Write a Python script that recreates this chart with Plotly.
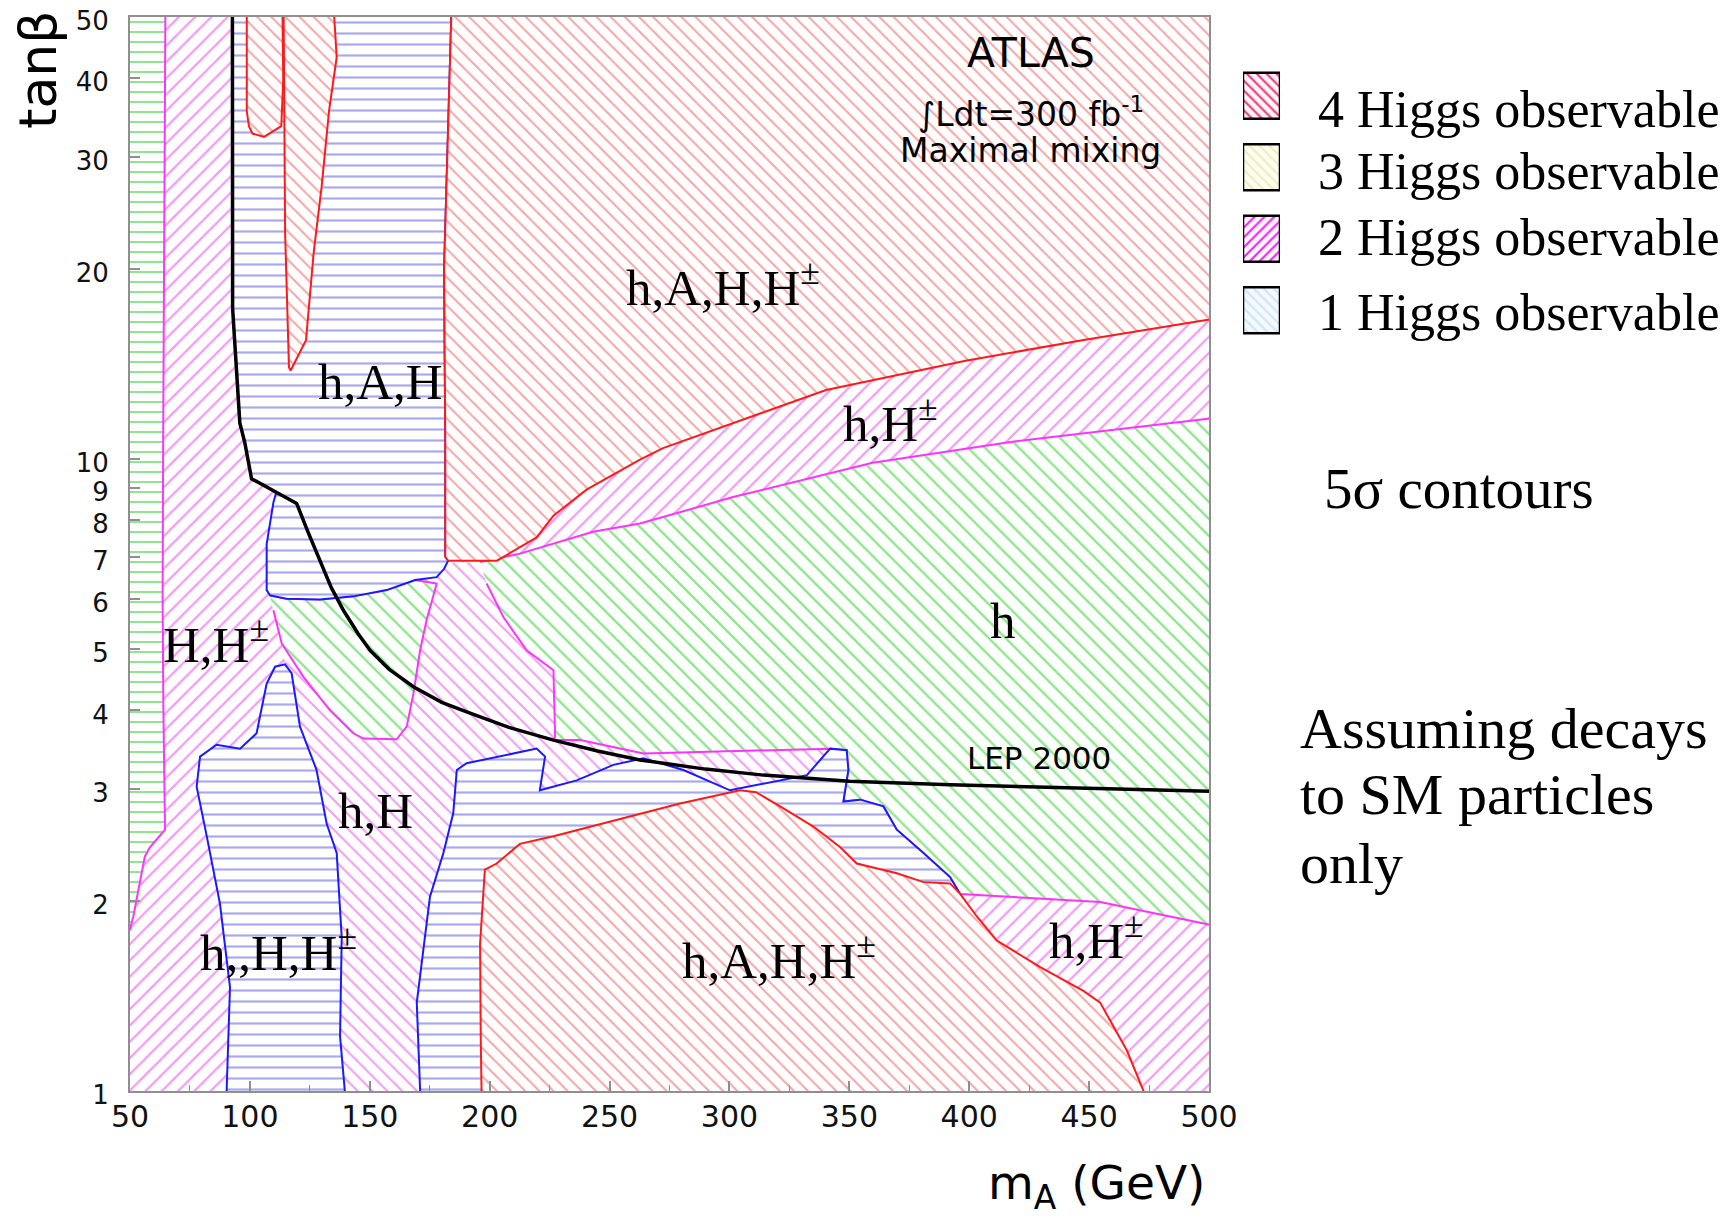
import numpy as np
import plotly.graph_objects as go

# ---------------- data (mA in GeV, tan(beta)) ----------------
# background 2-Higgs region (H,H+- ; covers whole plane, others painted over)
bg2_x = [45, 505, 505, 45]
bg2_y = [0.9, 0.9, 60, 60]

# 1-Higgs strip along the left edge
strip_x = [45, 45, 64.8, 64.7, 64.2, 63.8, 63.6, 63.9, 64.4, 64.6, 58.3, 56.2, 51.4, 50.0, 45]
strip_y = [1.78, 55, 55, 40, 20, 10, 6, 4.1, 3.2, 2.59, 2.43, 2.35, 1.89, 1.8, 1.78]

# 2-Higgs (h,H) region
hH_x = [120, 120, 114.6, 113.3, 109.8, 108.4, 129.2, 157.0, 168.9, 177.9, 182.5, 196.0, 198.7,
        205.7, 215.4, 226.6, 227.3, 237.7, 264.1, 342.0, 350.0, 350.0, 190.0, 178.0]
hH_y = [0.9, 3.5, 4.73, 5.1, 5.76, 6.08, 5.99, 6.2, 6.43, 6.6, 6.85, 6.87, 6.35,
        5.62, 4.98, 4.63, 3.63, 3.59, 3.42, 3.48, 3.46, 2.8, 2.8, 0.9]

# 1-Higgs (h) island near mA ~ 110-180
hin_x = [108.4, 115.3, 129.2, 143.1, 157.0, 168.9, 177.9, 173.7, 171.0, 168.2, 165.4, 161.2,
         147.3, 143.1, 133.4, 122.3, 113.3, 109.8]
hin_y = [6.08, 6.01, 5.99, 6.06, 6.20, 6.43, 6.35, 5.56, 4.98, 4.25, 3.77, 3.60,
         3.61, 3.68, 4.00, 4.52, 5.10, 5.76]

# 1-Higgs (h) main region
h_x = [196.0, 212.6, 243.1, 262.7, 301.5, 359.7, 417.9, 499.5, 505, 505, 497.8, 454.6, 396.2,
       392.0, 380.9, 369.8, 364.2, 354.5, 347.5, 349.6, 348.9, 342.0, 264.1, 237.7, 226.6,
       227.3, 226.6, 215.4, 205.7, 198.7]
h_y = [6.87, 7.08, 7.67, 7.90, 8.70, 9.86, 10.64, 11.57, 11.6, 1.82, 1.84, 1.99, 2.05,
       2.18, 2.38, 2.59, 2.82, 2.89, 2.87, 3.22, 3.46, 3.48, 3.42, 3.59, 3.59,
       3.63, 4.63, 4.98, 5.62, 6.35]

# 3-Higgs (h,A,H) upper column
hAH_x = [92.7, 184.5, 184.0, 181.0, 181.5, 181.5, 182.7, 181.0, 177.9, 168.9, 157.0, 143.1,
         129.2, 115.3, 108.4, 107.0, 107.0, 109.8, 111.0, 100.7, 97.9, 95.8, 92.8, 92.7]
hAH_y = [55, 55, 50, 20, 10.6, 7.0, 6.9, 6.7, 6.5, 6.43, 6.20, 6.06,
         5.99, 6.01, 6.08, 6.2, 7.33, 8.53, 8.85, 9.3, 10.6, 11.4, 17.3, 55]

# 4-Higgs lobes inside the upper column
lobe1_x = [98.7, 98.7, 99.6, 101.1, 105.9, 113.1, 113.9, 113.5]
lobe1_y = [55, 35.5, 33.6, 32.7, 32.3, 33.6, 39.7, 55]
lobe2_x = [114.0, 114.7, 116.3, 117.0, 123.4, 126.6, 129.9, 133.0, 136.2, 134.5]
lobe2_y = [55, 22.7, 13.96, 13.8, 15.4, 21.2, 26.9, 35.5, 43.2, 55]

# 4-Higgs upper-right region
all4_up_x = [184.5, 505, 505, 499.5, 447.1, 398.5, 340.3, 272.3, 262.7, 240.4, 226.6, 219.6,
             203.0, 182.7, 181.5, 181.5, 181.0, 184.0]
all4_up_y = [55, 55, 16.65, 16.6, 15.4, 14.3, 12.85, 10.4, 9.97, 8.94, 8.13, 7.51,
             6.9, 6.9, 7.0, 10.6, 20, 50]

# 3-Higgs (h,H,H+-) lower-left lobe
hHHc_x = [90.3, 90.3, 91.7, 87.5, 82.0, 77.8, 79.2, 86.1, 95.9, 102.8, 107.0, 110.5, 114.6,
          117.4, 120.9, 127.8, 132.0, 136.2, 138.3, 137.6, 139.6, 139.6]
hHHc_y = [0.9, 1.0, 1.46, 1.98, 2.53, 3.03, 3.38, 3.53, 3.48, 3.68, 4.41, 4.69, 4.73,
          4.58, 3.77, 3.22, 2.65, 2.38, 1.75, 1.22, 1.0, 0.9]

# 3-Higgs lower-middle band
low3_x = [171.2, 171.0, 169.6, 173.7, 175.1, 180.7, 184.8, 186.3, 190.4, 219.6, 223.1, 220.9,
          236.3, 251.6, 264.1, 280.8, 300.2, 332.3, 342.0, 348.9, 349.6, 347.5, 354.5, 364.2,
          369.8, 380.9, 392.0, 396.2, 397.0]
low3_y = [0.9, 1.0, 1.38, 1.86, 2.03, 2.38, 2.75, 3.22, 3.30, 3.48, 3.38, 2.99,
          3.10, 3.28, 3.36, 3.22, 2.99, 3.16, 3.48, 3.46, 3.22, 2.87, 2.89, 2.82,
          2.59, 2.38, 2.18, 2.05, 0.9]

# 4-Higgs lower region
all4_lo_x = [196.8, 196.3, 196.0, 198.0, 202.9, 212.6, 226.6, 251.6, 279.4, 304.4, 311.0, 321.1,
             335.0, 346.2, 353.1, 369.8, 380.9, 392.0, 396.2, 403.1, 411.5, 429.6, 447.6,
             454.6, 465.7, 472.7, 473.5]
all4_lo_y = [0.9, 1.2, 1.71, 2.24, 2.29, 2.46, 2.53, 2.68, 2.85, 2.99, 2.97, 2.82,
             2.62, 2.43, 2.29, 2.21, 2.14, 2.13, 2.05, 1.89, 1.73, 1.57, 1.44,
             1.38, 1.16, 1.0, 0.9]

# LEP 2000 exclusion line
lep_x = [92.7, 92.7, 92.8, 95.8, 97.9, 100.7, 119.5, 124.3, 129.2, 134.0, 139.0, 145.0, 150.1,
         158.0, 168.2, 180.0, 191.8, 208.0, 226.6, 245.0, 262.7, 290.0, 314.2, 350.0, 392.0,
         450.0, 500.0]
lep_y = [55, 50, 17.3, 11.4, 10.6, 9.3, 8.5, 7.65, 6.9, 6.25, 5.76, 5.3, 4.98,
         4.65, 4.36, 4.12, 3.96, 3.76, 3.59, 3.45, 3.34, 3.23, 3.16, 3.09, 3.05,
         3.01, 2.98]

# region labels
region_labels = ['h,A,H,H<sup>±</sup>', 'h,A,H', 'h,H<sup>±</sup>', 'h', 'H,H<sup>±</sup>',
                 'h,H', 'h,,H,H<sup>±</sup>', 'h,A,H,H<sup>±</sup>', 'h,H<sup>±</sup>']
label_x = [297.3, 154.4, 367.2, 414.1, 85.9, 152.5, 112.0, 320.8, 453.2]
label_y = [18.9, 13.25, 11.5, 5.55, 5.16, 2.77, 1.68, 1.63, 1.75]

# legend
legend_labels = ['4 Higgs observable', '3 Higgs observable', '2 Higgs observable', '1 Higgs observable']
legend_shape = ['\\', '\\', '/', '\\']
legend_fg = ['#ee3c78', '#eeecc0', '#ee2aee', '#cfe5f4']
legend_bg = ['#fff4f8', '#fefef0', '#fff4ff', '#f4f9fd']

note_lines = ['Assuming decays', 'to SM particles', 'only']

x_ticks = list(range(50, 501, 50))
y_ticks = [1, 2, 3, 4, 5, 6, 7, 8, 9, 10, 20, 30, 40, 50]

# ---------------- styles / geometry ----------------
RED_L, RED_H = '#ff1a1a', '#f04a4a'
MAG_L, MAG_H = '#ff33ff', '#e63ce6'
GRN_H = '#22cc22'
BLU_L, BLU_H = '#1a1aff', '#5252dc'

W, H = 1728, 1216
OX, OY = 8, 5          # compensate the page's body margin


def px_x(px):
    return (px - OX) / W


def px_y(py):
    return 1 - (py - OY) / H


xdom = [px_x(130), px_x(1209)]
ydom = [px_y(1088), px_y(14)]

fig = go.Figure()


def region(x, y, shape, fg, size, line_color=None, lw=2.0, sol=0.2):
    fig.add_trace(go.Scatter(
        x=x, y=y, mode='lines', fill='toself', fillcolor='white',
        fillpattern=dict(shape=shape, fgcolor=fg, bgcolor='white', size=size,
                         solidity=sol, fillmode='overlay'),
        line=dict(color=line_color if line_color else 'rgba(0,0,0,0)',
                  width=lw if line_color else 0),
        hoverinfo='skip', showlegend=False))


region(bg2_x, bg2_y, '/', MAG_H, 11.5)
region(strip_x, strip_y, '-', GRN_H, 10, MAG_L)
region(hH_x, hH_y, '\\', MAG_H, 10.5)
region(hin_x, hin_y, '\\', GRN_H, 12, MAG_L)
region(h_x, h_y, '\\', GRN_H, 12, MAG_L)
region(hAH_x, hAH_y, '-', BLU_H, 11, BLU_L)
region(lobe1_x, lobe1_y, '\\', RED_H, 10, RED_L)
region(lobe2_x, lobe2_y, '\\', RED_H, 10, RED_L)
region(all4_up_x, all4_up_y, '\\', RED_H, 10, RED_L)
region(hHHc_x, hHHc_y, '-', BLU_H, 11, BLU_L)
region(low3_x, low3_y, '-', BLU_H, 11, BLU_L)
region(all4_lo_x, all4_lo_y, '\\', RED_H, 10, RED_L)

fig.add_trace(go.Scatter(x=lep_x, y=lep_y, mode='lines',
                         line=dict(color='black', width=3.5),
                         hoverinfo='skip', showlegend=False))

# legend swatches: one bar per row on an inset category axis
for lab, shp, fg, bg in zip(legend_labels, legend_shape, legend_fg, legend_bg):
    fig.add_trace(go.Bar(
        x=[1], y=[lab], orientation='h', width=0.645, xaxis='x2', yaxis='y2',
        marker=dict(color=bg,
                    pattern=dict(shape=shp, fgcolor=fg, bgcolor=bg, fgopacity=1,
                                 size=7, solidity=0.3, fillmode='replace'),
                    line=dict(color='black', width=2.5)),
        hoverinfo='skip', showlegend=False))

annotations = []
for t, lx, ly in zip(region_labels, label_x, label_y):
    annotations.append(dict(x=lx, y=np.log10(ly), xref='x', yref='y', text=t, showarrow=False,
                            xanchor='center', yanchor='middle',
                            font=dict(family='Liberation Serif', size=51, color='black')))


def data_text(x, y, text, size):
    return dict(x=x, y=np.log10(y), xref='x', yref='y', text=text, showarrow=False,
                xanchor='center', yanchor='middle',
                font=dict(family='DejaVu Sans', size=size, color='black'))


def paper_text(px, py, text, size, family, xanchor='left', **kw):
    return dict(x=px_x(px), y=px_y(py), xref='paper', yref='paper', text=text, showarrow=False,
                xanchor=xanchor, yanchor='middle',
                font=dict(family=family, size=size, color='black'), **kw)


annotations += [
    data_text(425.7, 43.8, 'ATLAS', 41),
    data_text(425.7, 35.3, '∫Ldt=300 fb<sup>-1</sup>', 33),
    data_text(425.7, 30.7, 'Maximal mixing', 33),
    data_text(429.0, 3.36, 'LEP 2000', 31),
    paper_text(38, 67, 'tanβ', 52, 'DejaVu Sans', xanchor='center', textangle=-90),
    paper_text(1207, 1183, 'm<sub>A</sub> (GeV)', 47, 'DejaVu Sans', xanchor='right'),
    paper_text(1322, 485, '5σ contours', 57, 'Liberation Serif'),
]
for line, yc in zip(note_lines, [725, 791, 860]):
    annotations.append(paper_text(1298, yc, line, 58, 'Liberation Serif'))
for lab, yc in zip(legend_labels, [107, 168, 234, 309]):
    annotations.append(paper_text(1316, yc, lab, 52, 'Liberation Serif'))

axis_common = dict(showline=True, mirror=True, linecolor='#8f8f8f', linewidth=2,
                   showgrid=False, zeroline=False, ticks='inside', tickcolor='#8f8f8f',
                   tickwidth=1.5, ticklen=10, automargin=False, ticklabeloverflow='allow')

fig.update_layout(
    width=W, height=H, margin=dict(l=0, r=0, t=0, b=0, autoexpand=False),
    paper_bgcolor='white', plot_bgcolor='white', showlegend=False,
    xaxis=dict(domain=xdom, range=[50, 500], tickmode='array', tickvals=x_ticks,
               ticktext=[str(v) for v in x_ticks], ticklabelstandoff=-2,
               tickfont=dict(family='DejaVu Sans', size=30, color='#111111'),
               minor=dict(tickmode='linear', tick0=50, dtick=25, ticks='inside',
                          ticklen=6, tickcolor='#8f8f8f', tickwidth=1.2),
               **axis_common),
    yaxis=dict(domain=ydom, type='log', range=[0, np.log10(50.0005)], tickmode='array',
               tickvals=y_ticks, ticktext=[str(v) for v in y_ticks], ticklabelstandoff=14,
               ticklabelshift=4,
               tickfont=dict(family='DejaVu Sans', size=26, color='#111111'),
               **axis_common),
    xaxis2=dict(domain=[px_x(1243), px_x(1280)], range=[0, 1], visible=False, anchor='y2'),
    yaxis2=dict(domain=[px_y(343), px_y(57)], visible=False, anchor='x2',
                categoryorder='array', categoryarray=legend_labels, autorange='reversed'),
    barmode='overlay',
    annotations=annotations,
)

fig.write_html("out.html")
